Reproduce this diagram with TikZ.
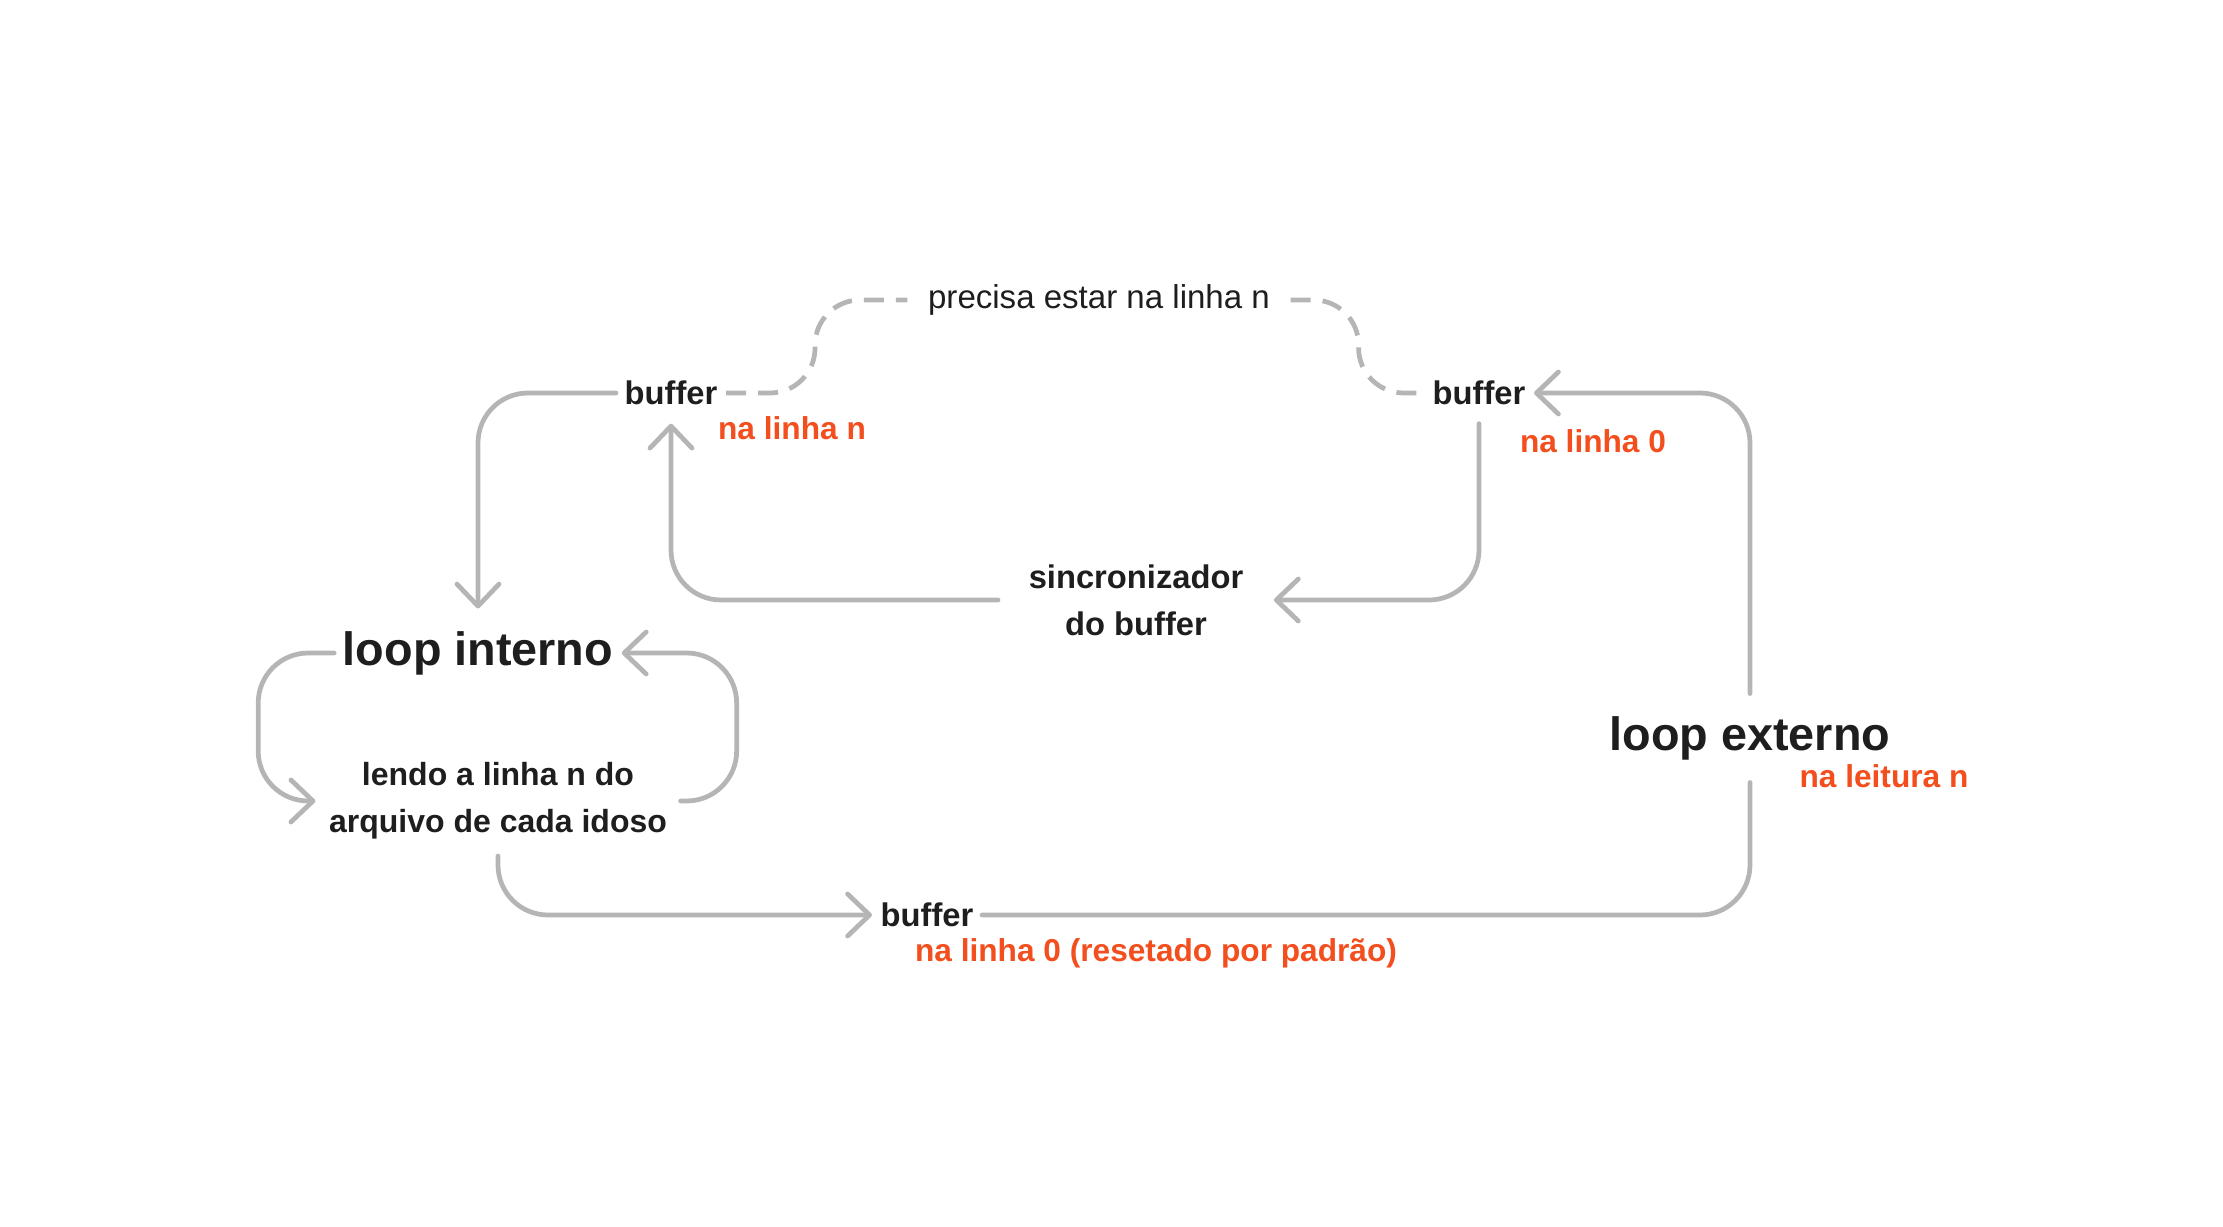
\documentclass[tikz,border=0pt]{standalone}
\usepackage{fontspec}
\setmainfont{Liberation Sans}
\usepackage{tikz}
\usetikzlibrary{arrows.meta}
\usetikzlibrary{positioning}
\definecolor{linegray}{HTML}{B5B5B5}
\definecolor{inkdark}{HTML}{1E1E1E}
\definecolor{noteorange}{HTML}{F24E1E}

\begin{document}
\begin{tikzpicture}[x=0.01cm,y=-0.01cm,
  every node/.style={text=inkdark,align=center,inner xsep=0.08cm,inner ysep=0.18cm,font=\bfseries\fontsize{9.3}{13.3}\selectfont},
  big/.style={inner ysep=0.22cm,font=\bfseries\fontsize{13.3}{16}\selectfont},
  note/.style={text=noteorange,inner sep=0pt,font=\bfseries\fontsize{9}{10}\selectfont},
  link/.style={draw=linegray,line width=1.35pt,line cap=round,rounded corners=0.5cm},
  arr/.style={link,-{Straight Barb[length=0.22cm,width=0.42cm,round]}},
  dashlink/.style={link,line cap=butt,dash pattern=on 0.2cm off 0.12cm,rounded corners=0.45cm}]
  \useasboundingbox (0,0) rectangle (2223,1227);

  \node (buf1) at (671,393) {buffer};
  \node[font=\fontsize{9.4}{11}\selectfont,inner xsep=0.2cm] (prec) at (1099,300) {precisa estar na linha n};
  \node (buf2) at (1479,393) {buffer};
  \node[inner xsep=0.3cm] (sinc) at (1136,600) {sincronizador\\do buffer};

  \node[big] (loopint) at (478,653) {loop interno};
  \node[inner xsep=0.13cm,inner ysep=0.16cm,font=\bfseries\fontsize{9.1}{13.3}\selectfont] (lendo) at (498,801) {lendo a linha n do\\arquivo de cada idoso};
  \node (buf3) at (927,915) {buffer};
  \node[big] (loopext) at (1750,738) {loop externo};

  \node[note] (n1) at (792,428) {na linha n};
  \node[note] (n2) at (1593,441) {na linha 0};
  \node[note] (n3) at (1156,953) {na linha 0 (resetado por padrão)};
  \node[note] (n4) at (1884,776) {na leitura n};

  \draw[dashlink](buf1.east)--++(89,0)|-(prec.west);
  \draw[dashlink](prec.east)--++(68,0)|-(buf2.west);
  \draw[arr](loopext.north)|-(buf2.east);
  \draw[arr](buf2.south)|-(sinc.east);
  \draw[arr](sinc.west)-|(buf1.south);
  \draw[arr](buf1.west)-|(loopint.north);
  \draw[arr](lendo.east)--++(56,0)|-(loopint.east);
  \draw[arr](loopint.west)--++(-76,0)|-(lendo.west);
  \draw[arr](lendo.south)|-(buf3.west);
  \draw[link](buf3.east)-|(loopext.south);
\end{tikzpicture}
\end{document}
